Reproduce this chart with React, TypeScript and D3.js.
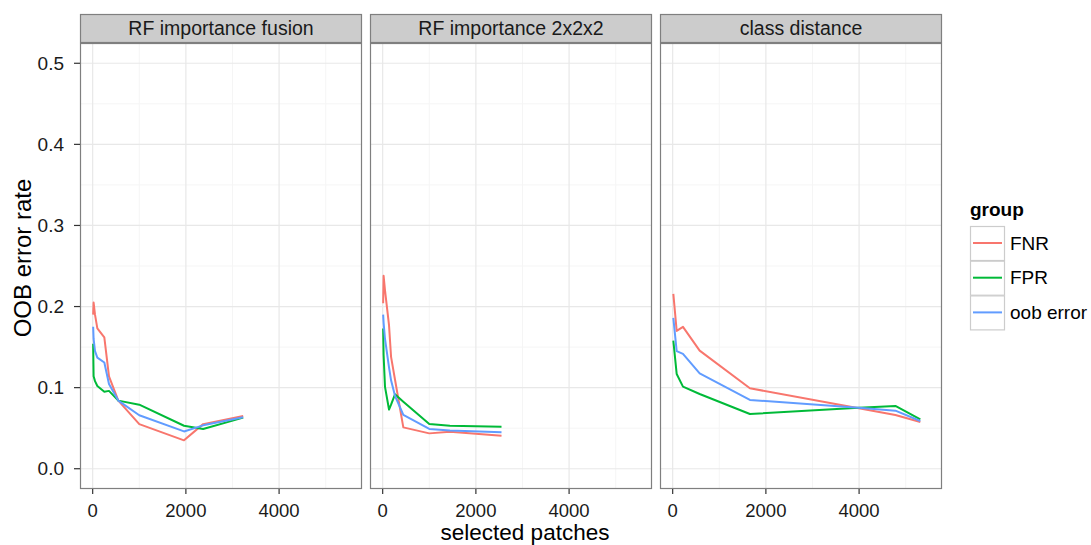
import React from "react";
import * as d3 from "d3";

const panels = ["RF importance fusion", "RF importance 2x2x2", "class distance"];
const groups = ["FNR", "FPR", "oob error"];
const groupColors = ["#F8766D", "#00BA38", "#619CFF"];

// x values (selected patches) per panel
const xFusion = [10, 20, 50, 100, 250, 350, 550, 1000, 1960, 2370, 3230];
const x2x2x2 = [10, 20, 50, 136, 180, 264, 443, 1000, 1443, 2550];
const xClassDist = [14, 86, 221, 579, 1657, 3993, 4779, 5314];

// series values per panel: FNR, FPR, oob error
const fusionFNR = [0.19, 0.205, 0.19, 0.173, 0.162, 0.114, 0.084, 0.055, 0.035, 0.055, 0.065];
const fusionFPR = [0.154, 0.114, 0.108, 0.102, 0.095, 0.096, 0.084, 0.079, 0.053, 0.049, 0.063];
const fusionOOB = [0.175, 0.16, 0.145, 0.137, 0.131, 0.1045, 0.084, 0.066, 0.046, 0.0535, 0.0634];

const b2FNR = [0.204, 0.238, 0.22, 0.177, 0.138, 0.11, 0.051, 0.0436, 0.0457, 0.0407];
const b2FPR = [0.173, 0.14, 0.101, 0.073, 0.079, 0.0918, 0.0827, 0.0551, 0.053, 0.0518];
const b2OOB = [0.19, 0.18, 0.16, 0.125, 0.109, 0.09, 0.0663, 0.049, 0.047, 0.0449];

const cdFNR = [0.2156, 0.17, 0.175, 0.1457, 0.0992, 0.0745, 0.0663, 0.0576];
const cdFPR = [0.158, 0.1169, 0.1012, 0.0922, 0.0675, 0.0753, 0.0774, 0.061];
const cdOOB = [0.186, 0.145, 0.1416, 0.1177, 0.0848, 0.0753, 0.0716, 0.0589];

const panelX = [xFusion, x2x2x2, xClassDist];
const panelSeries = [
  [fusionFNR, fusionFPR, fusionOOB],
  [b2FNR, b2FPR, b2OOB],
  [cdFNR, cdFPR, cdOOB],
];

const yTicks = [0, 0.1, 0.2, 0.3, 0.4, 0.5];
const yMinor = [0.05, 0.15, 0.25, 0.35, 0.45];
const xTicks = [0, 2000, 4000];
const xMinor = [1000, 3000, 5000];

const FONT = "'Liberation Sans', Arial, Helvetica, sans-serif";

export default function App() {
  const W = 1091;
  const H = 545;
  const panelLefts = [80, 370, 660];
  const pw = 282;
  const top = 43;
  const ph = 446;
  const stripTop = 14;

  const x = d3.scaleLinear().domain([-272, 5779]).range([0, pw]);
  const y = d3.scaleLinear().domain([-0.025, 0.525]).range([ph, 0]);
  const line = d3
    .line<[number, number]>()
    .x((d) => x(d[0]))
    .y((d) => y(d[1]));

  return (
    <svg
      width={W}
      height={H}
      style={{ position: "absolute", left: 0, top: 0, background: "#fff" }}
      fontFamily={FONT}
    >
      <rect width={W} height={H} fill="#fff" />
      {panels.map((name, pi) => {
        const xs = panelX[pi];
        return (
          <g key={name} transform={`translate(${panelLefts[pi]},0)`}>
            {/* strip */}
            <rect
              x={0.5}
              y={stripTop + 0.5}
              width={pw - 1}
              height={top - stripTop - 1}
              fill="#CCCCCC"
              stroke="#7F7F7F"
              strokeWidth={1.2}
            />
            <text
              x={pw / 2}
              y={(stripTop + top) / 2}
              dy="0.35em"
              textAnchor="middle"
              fontSize={19.5}
              fill="#1a1a1a"
            >
              {name}
            </text>
            <g transform={`translate(0,${top})`}>
              <rect width={pw} height={ph} fill="#fff" />
              {yMinor.map((v) => (
                <line key={"ym" + v} x1={0} x2={pw} y1={y(v)} y2={y(v)} stroke="#F5F5F5" strokeWidth={1} />
              ))}
              {xMinor.map((v) => (
                <line key={"xm" + v} y1={0} y2={ph} x1={x(v)} x2={x(v)} stroke="#F5F5F5" strokeWidth={1} />
              ))}
              {yTicks.map((v) => (
                <line key={"y" + v} x1={0} x2={pw} y1={y(v)} y2={y(v)} stroke="#E8E8E8" strokeWidth={1.2} />
              ))}
              {xTicks.map((v) => (
                <line key={"x" + v} y1={0} y2={ph} x1={x(v)} x2={x(v)} stroke="#E8E8E8" strokeWidth={1.2} />
              ))}
              {panelSeries[pi].map((vals, si) => (
                <path
                  key={groups[si]}
                  d={line(xs.map((xv, i) => [xv, vals[i]] as [number, number])) || ""}
                  fill="none"
                  stroke={groupColors[si]}
                  strokeWidth={2}
                  strokeLinejoin="round"
                />
              ))}
              <rect
                x={0.5}
                y={0.5}
                width={pw - 1}
                height={ph - 1}
                fill="none"
                stroke="#7F7F7F"
                strokeWidth={1.2}
              />
              {/* x axis ticks */}
              {xTicks.map((v) => (
                <g key={"xt" + v}>
                  <line x1={x(v)} x2={x(v)} y1={ph} y2={ph + 5} stroke="#333" strokeWidth={1.2} />
                  <text x={x(v)} y={ph + 27.5} textAnchor="middle" fontSize={18.5} fill="#1a1a1a">
                    {v}
                  </text>
                </g>
              ))}
              {pi === 0 &&
                yTicks.map((v) => (
                  <g key={"yt" + v}>
                    <line x1={-6} x2={0} y1={y(v)} y2={y(v)} stroke="#333" strokeWidth={1.2} />
                    <text x={-16} y={y(v)} dy="0.35em" textAnchor="end" fontSize={19} fill="#1a1a1a">
                      {v.toFixed(1)}
                    </text>
                  </g>
                ))}
            </g>
          </g>
        );
      })}
      {/* axis titles */}
      <text x={525} y={540} textAnchor="middle" fontSize={22.5} fill="#000">
        selected patches
      </text>
      <text
        transform={`translate(31,258) rotate(-90)`}
        textAnchor="middle"
        fontSize={24}
        fill="#000"
      >
        OOB error rate
      </text>
      {/* legend */}
      <text x={970} y={216} fontSize={19} fontWeight="bold" fill="#000">
        group
      </text>
      {groups.map((g, i) => {
        const ky = 226 + i * 34.7;
        return (
          <g key={g}>
            <rect x={970.5} y={ky + 0.5} width={34} height={34} fill="#fff" stroke="#CCCCCC" strokeWidth={1.2} />
            <line x1={973} x2={1002} y1={ky + 17} y2={ky + 17} stroke={groupColors[i]} strokeWidth={2} />
            <text x={1010} y={ky + 17} dy="0.35em" fontSize={19} fill="#000">
              {g}
            </text>
          </g>
        );
      })}
    </svg>
  );
}
